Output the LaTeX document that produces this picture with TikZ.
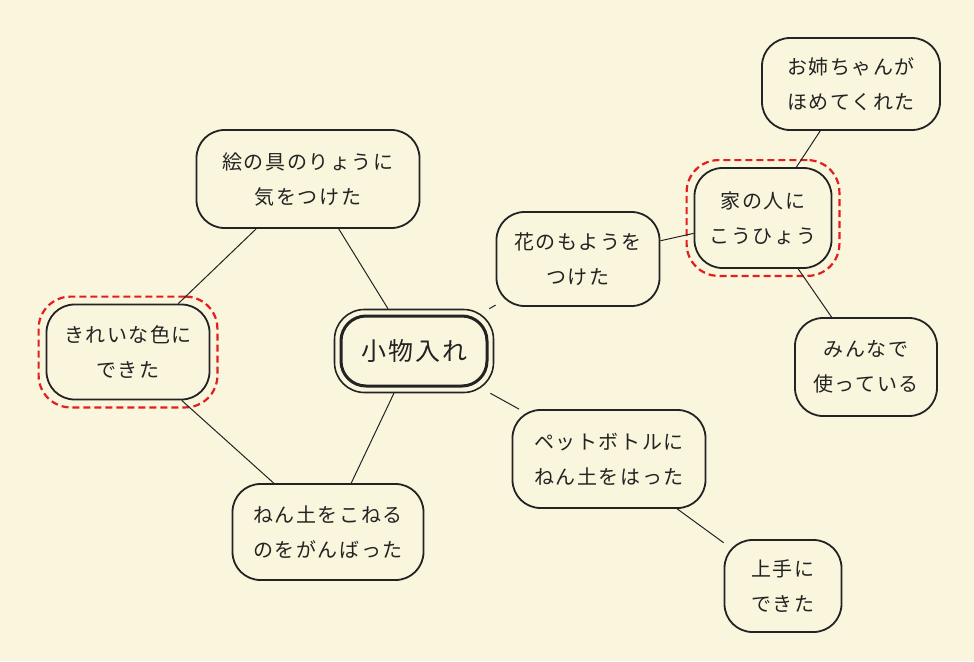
\documentclass[tikz,border=0pt]{standalone}
\usepackage{fontspec}
\newfontfamily\jpfont[LetterSpace=8]{Noto Sans CJK JP}
\usetikzlibrary{fit}
\definecolor{bgcol}{RGB}{250,246,222}
\definecolor{inkcol}{RGB}{35,35,35}
\definecolor{redcol}{RGB}{228,30,30}
\tikzset{
  bubble/.style={draw=inkcol, line width=1.8pt, rounded corners=28pt, fill=bgcol,
    align=center, inner sep=0pt, text=inkcol,
    font=\jpfont\fontsize{20pt}{35pt}\selectfont},
  link/.style={draw=inkcol, line width=1pt},
  redring/.style={draw=redcol, line width=2.2pt, dash pattern=on 7pt off 4pt, rounded corners=32pt, inner sep=7pt},
}
\begin{document}
\begin{tikzpicture}[x=1pt,y=-1pt]
\fill[bgcol] (0,0) rectangle (974,661);
\useasboundingbox (0,0) rectangle (974,661);

\node[bubble, minimum width=223pt, minimum height=98pt] (enogu) at (308,179) {絵の具のりょうに\\気をつけた};
\node[bubble, minimum width=163pt, minimum height=95pt] (kirei) at (128,352) {きれいな色に\\できた};
\node[bubble, minimum width=163pt, minimum height=94pt] (hana) at (578,259) {花のもようを\\つけた};
\node[bubble, minimum width=137pt, minimum height=100pt] (ie) at (763,218) {家の人に\\こうひょう};
\node[bubble, minimum width=178pt, minimum height=92pt] (ane) at (851,84) {お姉ちゃんが\\ほめてくれた};
\node[bubble, minimum width=142pt, minimum height=98pt] (minna) at (866,367) {みんなで\\使っている};
\node[bubble, minimum width=193pt, minimum height=98pt] (pet) at (609,459) {ペットボトルに\\ねん土をはった};
\node[bubble, minimum width=117pt, minimum height=92pt] (jouzu) at (783,586) {上手に\\できた};
\node[bubble, minimum width=191pt, minimum height=96pt] (nendo) at (328,532) {ねん土をこねる\\のをがんばった};

\node[bubble, line width=3pt, rounded corners=25pt, minimum width=146pt, minimum height=70pt,
  font=\jpfont\fontsize{25pt}{28pt}\selectfont] (core) at (414,351) {小物入れ};
\node[draw=inkcol, line width=1.6pt, rounded corners=30pt, fit=(core), inner sep=5pt] (coreout) {};

\node[redring, fit=(kirei)] (kireiring) {};
\node[redring, fit=(ie)] (iering) {};

\draw[link] (coreout) -- (enogu);
\draw[link] (coreout) -- (hana);
\draw[link] (coreout) -- (pet);
\draw[link] (coreout) -- (nendo);
\draw[link] (enogu) -- (kirei);
\draw[link] (kirei) -- (nendo);
\draw[link] (hana) -- (ie);
\draw[link] (ie) -- (ane);
\draw[link] (ie) -- (minna);
\draw[link] (pet) -- (jouzu);
\end{tikzpicture}
\end{document}
